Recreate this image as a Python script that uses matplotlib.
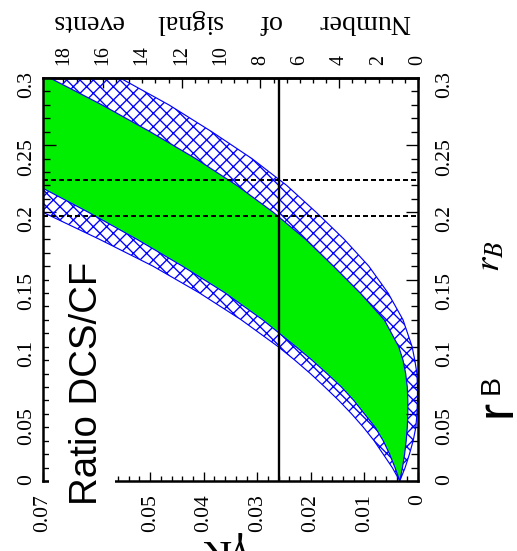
import matplotlib
matplotlib.use("Agg")
import matplotlib.pyplot as plt
from matplotlib.patches import Rectangle
from matplotlib.ticker import FixedLocator, FixedFormatter, MultipleLocator

DPI = 120
W, H = 517, 551

# r_B grid and the four band edges (DCS/CF ratio)
RB = [0.00, 0.01, 0.02, 0.03, 0.04, 0.05, 0.06, 0.07, 0.08, 0.09, 0.10,
      0.12, 0.14, 0.16, 0.18, 0.20, 0.22, 0.24, 0.26, 0.28, 0.30]
RATIO_OUTER_HI = [0.0034, 0.0048, 0.0065, 0.0082, 0.0102, 0.0124, 0.0148, 0.0174, 0.0201, 0.0230, 0.0261,
                  0.0330, 0.0408, 0.0495, 0.0595, 0.0700, 0.0810, 0.0920, 0.1040, 0.1160, 0.1290]
RATIO_INNER_HI = [0.0034, 0.0043, 0.0053, 0.0065, 0.0080, 0.0100, 0.0120, 0.0143, 0.0170, 0.0198, 0.0228,
                  0.0290, 0.0360, 0.0440, 0.0525, 0.0615, 0.0710, 0.0810, 0.0915, 0.1025, 0.1140]
RATIO_INNER_LO = [0.0034, 0.0029, 0.0025, 0.0022, 0.0020, 0.0019, 0.0019, 0.0020, 0.0023, 0.0028, 0.0036,
                  0.0063, 0.0108, 0.0158, 0.0210, 0.0270, 0.0338, 0.0415, 0.0500, 0.0590, 0.0687]
RATIO_OUTER_LO = [0.0034, 0.0024, 0.0016, 0.0009, 0.0004, 0.0002, 0.0001, 0.0001, 0.0002, 0.0006, 0.0011,
                  0.0028, 0.0056, 0.0092, 0.0138, 0.0190, 0.0245, 0.0310, 0.0385, 0.0465, 0.0556]

# measured ratio and the r_B values where it leaves the bands
RATIO_MEAS = 0.026
RB_LIMITS = [0.197, 0.224]

EVENTS_PER_RATIO = 272.0

RATIO_TICKS = [0.0, 0.01, 0.02, 0.03, 0.04, 0.05, 0.06, 0.07]
RATIO_TICK_LABELS = ["0", "0.01", "0.02", "0.03", "0.04", "0.05", "", "0.07"]  # 0.06 sits under the label box
RB_TICKS = [0.0, 0.05, 0.10, 0.15, 0.20, 0.25, 0.30]
RB_TICK_LABELS = ["0", "0.05", "0.1", "0.15", "0.2", "0.25", "0.3"]
EVENT_TICKS = [0, 2, 4, 6, 8, 10, 12, 14, 16, 18]
EVENT_TICK_LABELS = ["0", "2", "4", "6", "8", "10", "12", "14", "16", "18"]
EVENT_MAJOR = [0, 4, 8, 12, 16]

TOP_WORDS = ["Number", "of", "signal", "events"]

plt.rcParams["font.family"] = ["Liberation Serif", "DejaVu Serif"]
plt.rcParams["mathtext.fontset"] = "stix"
plt.rcParams["hatch.color"] = "blue"
plt.rcParams["hatch.linewidth"] = 0.8


def fx(x):
    return x / W


def fy(y):
    return 1 - y / H


fig = plt.figure(figsize=(W / DPI, H / DPI), dpi=DPI)
ax = fig.add_axes([fx(43), fy(481), 375 / W, 403 / H])

# allowed regions
ax.fill_betweenx(RB, RATIO_INNER_LO, RATIO_INNER_HI, color="#00ee00", lw=0, zorder=1)
for lo, hi in [(RATIO_INNER_HI, RATIO_OUTER_HI), (RATIO_OUTER_LO, RATIO_INNER_LO)]:
    ax.fill_betweenx(RB, lo, hi, facecolor="none", edgecolor="blue",
                     hatch="xxx", lw=0.7, zorder=2)

for y in RB_LIMITS:
    ax.axhline(y, color="k", lw=1.2, ls=(0, (2.5, 1.5)), zorder=3)
ax.axvline(RATIO_MEAS, color="k", lw=1.4, zorder=4)

ax.set_xlim(0.07, 0)
ax.set_ylim(0, 0.3)

ax.xaxis.set_major_locator(FixedLocator(RATIO_TICKS))
ax.xaxis.set_major_formatter(FixedFormatter(RATIO_TICK_LABELS))
ax.xaxis.set_minor_locator(MultipleLocator(0.002))
ax.yaxis.set_major_locator(FixedLocator(RB_TICKS))
ax.yaxis.set_major_formatter(FixedFormatter(RB_TICK_LABELS))
ax.yaxis.set_minor_locator(MultipleLocator(0.01))

ax.tick_params(axis="x", which="both", direction="in", top=False, bottom=True,
               labelrotation=90, labelsize=13, pad=8, width=0.8)
ax.tick_params(axis="x", which="major", length=5.4)
ax.tick_params(axis="x", which="minor", length=3)
ax.tick_params(axis="y", which="both", direction="in", left=True, right=True,
               labelleft=True, labelright=False, labelrotation=90, labelsize=13,
               width=0.8, pad=4)
ax.tick_params(axis="y", which="major", length=7.5)
ax.tick_params(axis="y", which="minor", length=4)

for s in ax.spines.values():
    s.set_linewidth(1.5)
    s.set_zorder(5)

# right-hand r_B labels sit further out than the left ones
rb_right = ax.secondary_yaxis("right")
rb_right.yaxis.set_major_locator(FixedLocator(RB_TICKS))
rb_right.yaxis.set_major_formatter(FixedFormatter(RB_TICK_LABELS))
rb_right.tick_params(which="major", length=0, pad=10, labelrotation=90, labelsize=13)
rb_right.tick_params(which="minor", length=0)
rb_right.spines["right"].set_visible(False)


# signal events scale on top
def to_events(r):
    return r * EVENTS_PER_RATIO


def to_ratio(e):
    return e / EVENTS_PER_RATIO


top_ticks = ax.secondary_xaxis("top", functions=(to_events, to_ratio))
top_ticks.xaxis.set_major_locator(FixedLocator(EVENT_MAJOR))
top_ticks.xaxis.set_minor_locator(MultipleLocator(2 / 3))
top_ticks.tick_params(which="both", direction="in", labeltop=False, width=0.8)
top_ticks.tick_params(which="major", length=6)
top_ticks.tick_params(which="minor", length=3)
top_ticks.spines["top"].set_linewidth(1.5)

top_labels = ax.secondary_xaxis("top", functions=(to_events, to_ratio))
top_labels.xaxis.set_major_locator(FixedLocator(EVENT_TICKS))
top_labels.xaxis.set_major_formatter(FixedFormatter(EVENT_TICK_LABELS))
top_labels.tick_params(which="major", length=0, pad=8, labelrotation=90, labelsize=12)
top_labels.tick_params(which="minor", length=0)
top_labels.spines["top"].set_visible(False)

for word, xc in zip(TOP_WORDS, [364, 269, 188, 87]):
    fig.text(fx(xc), fy(15), word, rotation=180, rotation_mode="anchor",
             ha="center", va="baseline", fontsize=16.8)

fig.text(fx(217), fy(540), "γK*", rotation=180, rotation_mode="anchor",
         ha="center", va="baseline", fontsize=24)

fig.text(fx(490), fy(256), r"$r_B$", rotation=90, ha="center", va="center", fontsize=22)

# big labels over the frame
fig.add_artist(Rectangle((fx(48.5), fy(548)), 66 / W, 278 / H, transform=fig.transFigure,
                         facecolor="white", edgecolor="none", zorder=10))
fig.text(fx(97), fy(505), "Ratio DCS/CF", rotation=90, rotation_mode="anchor",
         ha="left", va="baseline", fontsize=23, family="Liberation Sans", zorder=11)
fig.text(fx(510), fy(417), "r", rotation=90, rotation_mode="anchor",
         ha="left", va="baseline", fontsize=31, family="Liberation Sans", zorder=11)
fig.text(fx(499), fy(394), "B", rotation=90, rotation_mode="anchor",
         ha="left", va="baseline", fontsize=17, family="Liberation Sans", zorder=11)

fig.savefig("out.png", dpi=DPI)
